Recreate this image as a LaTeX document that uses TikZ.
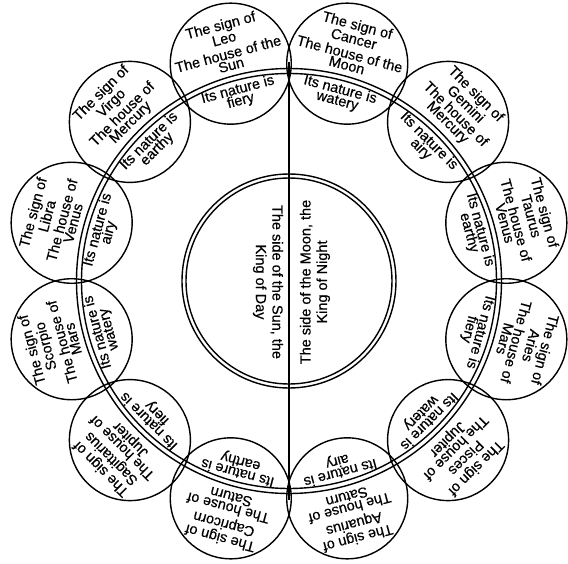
\documentclass[tikz,border=0pt]{standalone}
\usepackage{fontspec}
\setmainfont{Liberation Sans}
\newfontfamily\heavysans{Liberation Sans}[FakeBold=0.5]
\usetikzlibrary{calc}
\begin{document}
\begin{tikzpicture}[x=1pt,y=1pt,
  ln/.style={line width=1.4pt},
  zodiac/.style={circle,draw,ln,minimum size=121pt,inner sep=0pt},
  lbl/.style={align=center,inner sep=0pt,font=\heavysans\fontsize{14.5}{11.5}\selectfont},
  mid/.style={align=center,inner sep=0pt,font=\heavysans\fontsize{14.5}{16.5}\selectfont}]
\useasboundingbox (-289,-282) rectangle (279,281);
% inner double circle
\node[circle,draw,ln,minimum size=214pt,inner sep=0pt] (innerA) at (0,0) {};
\node[circle,draw,ln,minimum size=206pt,inner sep=0pt] (innerB) at (0,0) {};
% the double ring
\node[circle,draw,ln,minimum size=425pt,inner sep=0pt] (ringA) at (0,0) {};
\node[circle,draw,ln,minimum size=415pt,inner sep=0pt] (ringB) at (0,0) {};
% dividing line
\coordinate (top) at (90:219);
\coordinate (bot) at (270:219);
\draw[ln] (top) -- (bot);
% central texts
\node[mid,rotate=-90] (sun) at (-21,-1) {The side of the Sun, the\\King of Day};
\node[mid,rotate=90] (moon) at (26,-1) {The side of the Moon, the\\King of Night};
% the twelve signs
\foreach \a/\s/\h/\n/\k in {
  105/Leo/{The house of the\\Sun}/fiery/leo,
  135/Virgo/{The house of\\Mercury}/earthy/virgo,
  165/Libra/{The house of\\Venus}/airy/libra,
  195/Scorpio/{The house of\\Mars}/watery/scorpio,
  225/Sagittarius/{The house of\\Jupiter}/fiery/sagittarius,
  255/Capricorn/{The house of\\Saturn}/earthy/capricorn,
  285/Aquarius/{The house of\\Saturn}/airy/aquarius,
  315/Pisces/{The house of\\Jupiter}/watery/pisces,
  345/Aries/{The house of\\Mars}/fiery/aries,
  15/Taurus/{The house of\\Venus}/earthy/taurus,
  45/Gemini/{The house of\\Mercury}/airy/gemini,
  75/Cancer/{The house of the\\Moon}/watery/cancer}
{
  \node[zodiac] (\k) at (\a:225) {};
  \node[lbl,rotate=\a-90] (\k-sign) at ($(\k)+(\a:33)$) {The sign of\\\s};
  \node[lbl,rotate=\a-90] (\k-house) at ($(\k)+(\a:4.5)$) {\h};
  \node[lbl,rotate=\a-90] (\k-nature) at ($(\k)+(\a:-33)$) {Its nature is\\\n};
}
\end{tikzpicture}
\end{document}
